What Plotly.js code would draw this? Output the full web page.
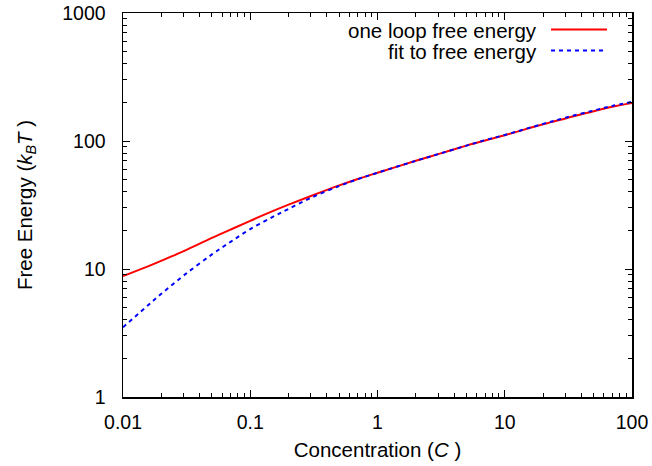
<!DOCTYPE html>
<html>
<head>
<meta charset="utf-8">
<script src="https://cdn.plot.ly/plotly-3.0.1.min.js"></script>
<style>html,body{margin:0;padding:0;background:#fff;}#chart{width:652px;height:466px;}</style>
</head>
<body>
<div id="chart"></div>
<script>
// Data
var concentration = [0.01, 0.015, 0.02, 0.03, 0.05, 0.07, 0.1, 0.15, 0.2, 0.3, 0.5, 0.7, 1, 2, 3, 5, 7, 10, 20, 30, 50, 70, 100];
var oneLoopEnergy = [8.8, 10.3, 11.6, 13.8, 17.5, 20.3, 23.8, 28.3, 31.8, 37.2, 45, 50.5, 56.5, 70, 79, 92, 101, 111, 135, 150, 171, 185, 198];
var fitEnergy     = [3.5, 5.0, 6.4, 8.9, 13.0, 16.3, 20.5, 25.5, 29.5, 36, 44.5, 50.3, 56.5, 70, 79, 92, 101.5, 111.5, 136, 152, 173, 188, 202];
var seriesNames = ["one loop free energy", "fit to free energy"];
var xTickVals = [0.01, 0.1, 1, 10, 100];
var xTickText = ["0.01", "0.1", "1", "10", "100"];
var yTickVals = [1, 10, 100, 1000];
var yTickText = ["1", "10", "100", "1000"];

var font = "Liberation Sans, Arial, Helvetica, sans-serif";

var traces = [
  {x: concentration, y: oneLoopEnergy, name: seriesNames[0], type: "scatter", mode: "lines",
   line: {color: "rgb(255,0,0)", width: 2, shape: "spline"}},
  {x: concentration, y: fitEnergy, name: seriesNames[1], type: "scatter", mode: "lines",
   line: {color: "rgb(0,0,255)", width: 2, dash: "4px,4px", shape: "spline"}}
];

var axisCommon = {
  type: "log",
  showgrid: false,
  zeroline: false,
  showline: true,
  linecolor: "#000",
  linewidth: 1.5,
  mirror: "ticks",
  ticks: "inside",
  ticklen: 7,
  tickwidth: 1,
  tickcolor: "#000",
  tickmode: "array",
  tickfont: {family: font, size: 19.5, color: "#000"},
  minor: {ticks: "inside", ticklen: 4, tickwidth: 1, tickcolor: "#000", dtick: "D1", showgrid: false}
};

var xaxis = Object.assign({}, axisCommon, {
  range: [-2, 2],
  tickvals: xTickVals, ticktext: xTickText,
  ticklabelstandoff: 7,
  title: {text: "Concentration (<i>C</i> )", font: {family: font, size: 20.5, color: "#000"}, standoff: 10}
});
var yaxis = Object.assign({}, axisCommon, {
  range: [0, 3],
  tickvals: yTickVals, ticktext: yTickText,
  ticklabelstandoff: 12,
  title: {text: "Free Energy (<i>k</i><sub><i>B</i></sub><i>T</i> )", font: {family: font, size: 20.5, color: "#000"}, standoff: 24}
});

var layout = {
  width: 652, height: 466,
  margin: {l: 123, r: 20, t: 13, b: 69, pad: 0},
  paper_bgcolor: "#fff", plot_bgcolor: "#fff",
  showlegend: false,
  xaxis: xaxis, yaxis: yaxis,
  annotations: [
    {xref: "paper", yref: "paper", x: (539 - 123) / 509, y: 1 - (30.5 - 13) / 384, xanchor: "right", yanchor: "middle",
     text: seriesNames[0], showarrow: false, font: {family: font, size: 20.5, color: "#000"}},
    {xref: "paper", yref: "paper", x: (539 - 123) / 509, y: 1 - (51.5 - 13) / 384, xanchor: "right", yanchor: "middle",
     text: seriesNames[1], showarrow: false, font: {family: font, size: 20.5, color: "#000"}}
  ],
  shapes: [
    {type: "line", xref: "paper", yref: "paper", x0: (551 - 123) / 509, x1: (607 - 123) / 509,
     y0: 1 - (29.5 - 13) / 384, y1: 1 - (29.5 - 13) / 384, line: {color: "rgb(255,0,0)", width: 2}},
    {type: "line", xref: "paper", yref: "paper", x0: (551 - 123) / 509, x1: (607 - 123) / 509,
     y0: 1 - (50.5 - 13) / 384, y1: 1 - (50.5 - 13) / 384, line: {color: "rgb(0,0,255)", width: 2, dash: "4px,4px"}}
  ]
};

Plotly.newPlot("chart", traces, layout, {displayModeBar: false, staticPlot: true});
</script>
</body>
</html>
